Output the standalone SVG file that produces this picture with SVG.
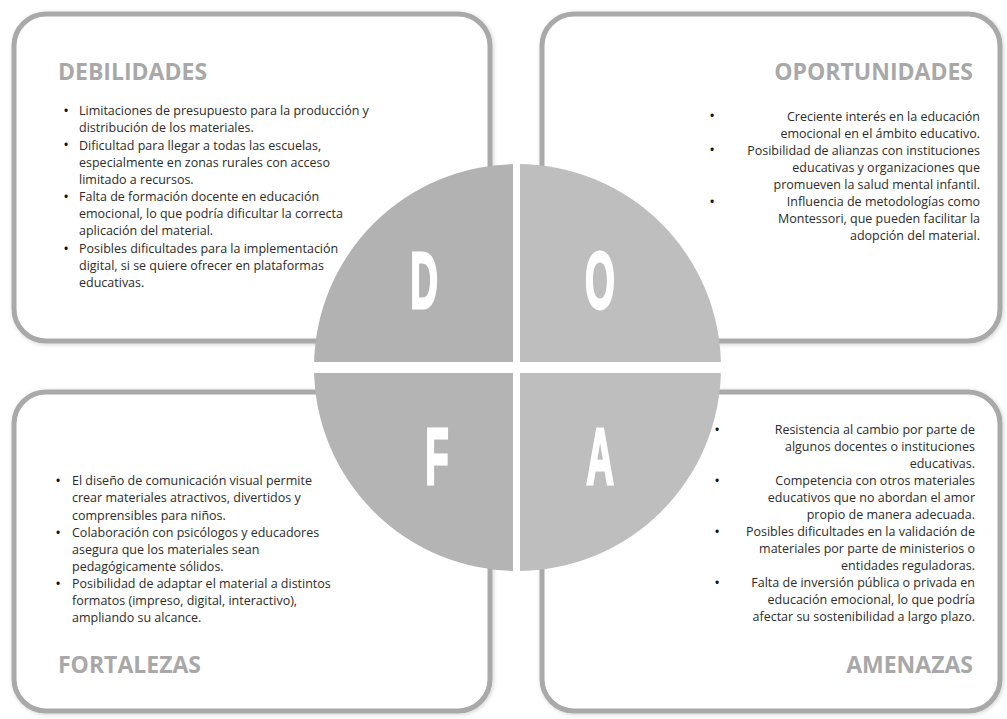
<svg xmlns="http://www.w3.org/2000/svg" width="1007" height="719" viewBox="0 0 1007 719">
<defs>
<style>
.box{fill:#fff;stroke:#a9a9a9;stroke-width:5;filter:url(#sh)}
.title{font-family:"Open Sans","Liberation Sans",sans-serif;font-weight:700;font-size:23px;fill:#a8a8a8}
.body{font-family:"Open Sans","Liberation Sans",sans-serif;font-size:12.5px;fill:#2b2b2b}
.r{text-anchor:end}
.bul{font-family:"Open Sans","Liberation Sans",sans-serif;font-size:15px;fill:#111;text-anchor:middle}
.letter{font-family:"Liberation Sans",Arial,sans-serif;font-weight:700;font-size:80px;fill:#fff;stroke:#fff;stroke-width:3;stroke-linejoin:miter;text-anchor:middle}
</style>
<filter id="sh" x="-5%" y="-5%" width="110%" height="110%">
<feDropShadow dx="1" dy="1" stdDeviation="2" flood-color="#000" flood-opacity="0.18"/>
</filter>
<clipPath id="cc"><circle cx="517.5" cy="367.5" r="203.5"/></clipPath>
</defs>
<rect width="1007" height="719" fill="#fff"/>

<g id="box-debilidades">
<rect class="box" x="14" y="14" width="476" height="327" rx="32"/>
<text class="title" x="58" y="80">DEBILIDADES</text>
<g class="bul"><text x="66" y="115.5">•</text><text x="66" y="150">•</text><text x="66" y="201.5">•</text><text x="66" y="253.5">•</text></g>
<g class="body">
<text x="79" y="115">Limitaciones de presupuesto para la producción y</text>
<text x="79" y="132">distribución de los materiales.</text>
<text x="79" y="149.5">Dificultad para llegar a todas las escuelas,</text>
<text x="79" y="167">especialmente en zonas rurales con acceso</text>
<text x="79" y="184">limitado a recursos.</text>
<text x="79" y="201">Falta de formación docente en educación</text>
<text x="79" y="218">emocional, lo que podría dificultar la correcta</text>
<text x="79" y="235">aplicación del material.</text>
<text x="79" y="253">Posibles dificultades para la implementación</text>
<text x="79" y="270">digital, si se quiere ofrecer en plataformas</text>
<text x="79" y="287">educativas.</text>
</g>
</g>

<g id="box-oportunidades">
<rect class="box" x="542" y="14" width="458" height="327" rx="32"/>
<text class="title r" x="973" y="80">OPORTUNIDADES</text>
<g class="bul"><text x="712" y="121">•</text><text x="712" y="155">•</text><text x="712" y="206.5">•</text></g>
<g class="body r">
<text x="980" y="120.5">Creciente interés en la educación</text>
<text x="980" y="137.5">emocional en el ámbito educativo.</text>
<text x="980" y="154.5">Posibilidad de alianzas con instituciones</text>
<text x="980" y="171.5">educativas y organizaciones que</text>
<text x="980" y="188.5">promueven la salud mental infantil.</text>
<text x="980" y="206">Influencia de metodologías como</text>
<text x="980" y="223">Montessori, que pueden facilitar la</text>
<text x="980" y="240">adopción del material.</text>
</g>
</g>

<g id="box-fortalezas">
<rect class="box" x="14" y="392" width="476" height="319" rx="32"/>
<text class="title" x="58" y="673">FORTALEZAS</text>
<g class="bul"><text x="58" y="485.5">•</text><text x="58" y="537.5">•</text><text x="58" y="588.5">•</text></g>
<g class="body">
<text x="72" y="485">El diseño de comunicación visual permite</text>
<text x="72" y="502">crear materiales atractivos, divertidos y</text>
<text x="72" y="519.5">comprensibles para niños.</text>
<text x="72" y="537">Colaboración con psicólogos y educadores</text>
<text x="72" y="554">asegura que los materiales sean</text>
<text x="72" y="571">pedagógicamente sólidos.</text>
<text x="72" y="588">Posibilidad de adaptar el material a distintos</text>
<text x="72" y="605">formatos (impreso, digital, interactivo),</text>
<text x="72" y="622">ampliando su alcance.</text>
</g>
</g>

<g id="box-amenazas">
<rect class="box" x="542" y="392" width="458" height="319" rx="32"/>
<text class="title r" x="973" y="673">AMENAZAS</text>
<g class="bul"><text x="717" y="434.5">•</text><text x="717" y="485.5">•</text><text x="717" y="536.5">•</text><text x="717" y="587.5">•</text></g>
<g class="body r">
<text x="975" y="434">Resistencia al cambio por parte de</text>
<text x="975" y="451">algunos docentes o instituciones</text>
<text x="975" y="468">educativas.</text>
<text x="975" y="485">Competencia con otros materiales</text>
<text x="975" y="502">educativos que no abordan el amor</text>
<text x="975" y="519">propio de manera adecuada.</text>
<text x="975" y="536">Posibles dificultades en la validación de</text>
<text x="975" y="553">materiales por parte de ministerios o</text>
<text x="975" y="570">entidades reguladoras.</text>
<text x="975" y="587">Falta de inversión pública o privada en</text>
<text x="975" y="604">educación emocional, lo que podría</text>
<text x="975" y="621">afectar su sostenibilidad a largo plazo.</text>
</g>
</g>

<g id="circle" clip-path="url(#cc)">
<g id="q-d"><rect x="312" y="162" width="201" height="200" fill="#b2b2b2"/></g>
<g id="q-o"><rect x="520" y="162" width="203" height="200" fill="#bebebe"/></g>
<g id="q-f"><rect x="312" y="373" width="201" height="200" fill="#b4b4b4"/></g>
<g id="q-a"><rect x="520" y="373" width="203" height="200" fill="#bebebe"/></g>
</g>
<g id="letters">
<text class="letter" transform="translate(424,308) scale(0.48,1)">D</text>
<text class="letter" transform="translate(600,308) scale(0.48,1)">O</text>
<text class="letter" transform="translate(437,484) scale(0.48,1)">F</text>
<text class="letter" transform="translate(600,484) scale(0.48,1)">A</text>
</g>
<g id="connectors"/>
</svg>
